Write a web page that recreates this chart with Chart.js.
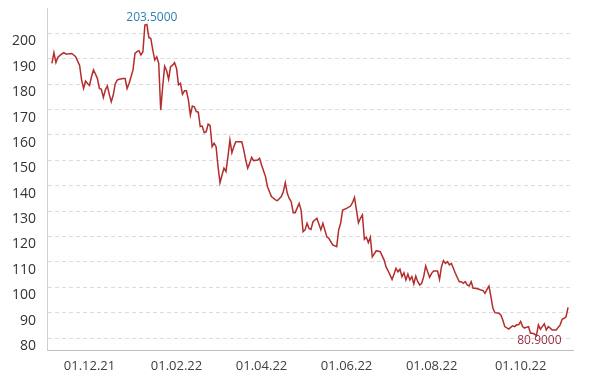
<!DOCTYPE html>
<html>
<head>
<meta charset="utf-8">
<script src="https://cdn.jsdelivr.net/npm/chart.js@4"></script>
<style>
  html, body { margin: 0; padding: 0; background: #ffffff; }
  #c { display: block; }
</style>
</head>
<body>
<canvas id="c" width="604" height="382"></canvas>
<script>
// ---- data ----
const startDate = '2021-11-04';           // first trading day shown
const tradingDay = [
  0,1,2,3,5,6,7,8,10,11,12,13,14,15,16,17,18,19,20,21,22,23,24,25,26,27,28,29,30,31,32,33,34,36,37,38,39,40,41,42,43,44,45,46,47,48,49,50,51,52,53,54,55,56,57,58,59,60,61,62,63,64,65,66,67,68,69,70,71,72,73,74,75,76,77,78,79,80,81,82,83,84,85,86,87,88,89,90,91,92,93,95,96,97,98,99,100,101,102,104,105,106,108,109,111,113,114,116,117,118,119,120,121,122,123,125,126,127,128,129,130,131,132,134,136,137,138,139,140,141,142,144,145,146,147,149,151,152,153,154,155,156,157,158,159,160,161,162,164,166,168,169,170,172,173,174,175,176,177,178,179,180,181,182,183,184,185,186,187,188,189,190,191,192,193,195,196,197,198,199,200,201,202,203,204,206,207,208,209,210,211,212,213,214,216,217,218,219,220,221,222,223,224,226,227,228,229,231,232,233,234,235,236,237,238,239,240,241,242,243,244,245,246,247,249,250,251,252,253,255,257,258,259,260,261
];
const values = [
  188.2,192.4,188.5,190.6,191.9,192.4,191.9,191.9,192.1,191.5,190.8,189.1,187.4,181.6,178.3,181.2,180.3,179.5,182.9,185.6,184.0,182.2,178.3,178.0,174.8,177.7,179.3,176.0,173.1,175.7,180.1,181.6,181.9,182.2,182.2,178.3,180.3,182.9,185.6,192.1,192.8,193.2,191.5,192.8,203.3,203.5,198.4,198.0,193.4,189.5,190.8,188.2,169.8,179.0,187.1,185.3,181.9,186.9,187.5,188.5,186.2,179.7,180.3,176.0,177.4,177.4,173.8,167.8,171.4,171.1,169.2,169.0,163.3,163.5,160.9,161.3,164.3,163.7,155.4,156.7,155.4,147.5,141.2,144.2,146.9,145.6,151.4,158.0,153.0,155.4,157.3,157.3,157.3,154.1,150.1,146.9,148.9,151.2,149.9,150.1,150.8,148.2,143.6,139.6,135.7,134.4,134.1,135.7,137.6,141.2,137.0,135.0,133.7,129.4,129.4,133.0,130.4,121.9,122.6,125.2,123.2,122.8,125.8,127.2,122.6,125.2,122.6,119.9,119.3,118.0,116.7,116.0,122.6,125.2,130.4,131.1,132.0,133.3,135.4,130.4,125.4,127.2,128.5,118.9,119.7,117.6,119.7,112.0,114.4,114.0,110.7,107.9,106.5,103.1,105.2,107.5,106.1,107.1,104.2,105.7,102.9,105.2,102.9,104.2,101.3,104.4,102.2,100.9,101.6,104.2,108.4,106.1,103.9,105.5,106.4,106.4,103.1,108.1,110.5,109.4,110.1,108.8,109.4,107.5,105.5,102.2,102.2,101.6,102.2,100.9,100.5,102.2,99.6,99.6,99.2,98.9,98.7,97.6,99.2,100.5,96.3,91.7,90.0,89.8,89.1,87.1,84.5,83.5,84.2,84.8,84.5,85.2,85.2,86.5,84.5,83.9,84.3,84.5,81.9,81.9,81.6,80.9,85.2,83.5,85.6,83.2,84.5,83.9,83.2,83.2,85.2,87.4,87.8,88.4,92.1
];
const tickDates  = ['2021-12-01','2022-02-01','2022-04-01','2022-06-01','2022-08-01','2022-10-01'];
const tickLabels = ['01.12.21','01.02.22','01.04.22','01.06.22','01.08.22','01.10.22'];
const yTicks = [80,90,100,110,120,130,140,150,160,170,180,190,200];

// count weekdays from startDate up to (not including) date
function weekdayIndex(dateStr) {
  const d0 = new Date(startDate + 'T00:00:00Z');
  const d1 = new Date(dateStr + 'T00:00:00Z');
  let n = 0;
  for (let d = new Date(d0); d < d1; d.setUTCDate(d.getUTCDate() + 1)) {
    const wd = d.getUTCDay();
    if (wd !== 0 && wd !== 6) n++;
  }
  return n;
}
const tickDays = tickDates.map(weekdayIndex);

const points = tradingDay.map((d, i) => ({ x: d, y: values[i] }));

const extremaPlugin = {
  id: 'extrema',
  afterDatasetsDraw(chart) {
    const { ctx, scales: { x, y } } = chart;
    let maxI = 0, minI = 0;
    values.forEach((v, i) => { if (v > values[maxI]) maxI = i; if (v < values[minI]) minI = i; });
    ctx.save();
    ctx.font = '12px "Open Sans", sans-serif';
    ctx.textAlign = 'center';
    // max
    ctx.fillStyle = '#2f7fb5';
    ctx.textBaseline = 'bottom';
    ctx.fillText(values[maxI].toFixed(4), x.getPixelForValue(tradingDay[maxI]) + 5, y.getPixelForValue(values[maxI]) - 1);
    // min
    ctx.fillStyle = '#9a2c45';
    ctx.textBaseline = 'top';
    ctx.fillText(values[minI].toFixed(4), x.getPixelForValue(tradingDay[minI]) + 3, y.getPixelForValue(values[minI]) - 1);
    ctx.restore();
  }
};

new Chart(document.getElementById('c'), {
  type: 'line',
  data: {
    datasets: [{
      data: points,
      borderColor: 'rgb(180,45,45)',
      borderWidth: 1.5,
      pointRadius: 0,
      tension: 0,
      fill: false
    }]
  },
  options: {
    responsive: false,
    animation: false,
    devicePixelRatio: 1,
    layout: { padding: { top: 8, right: 31, bottom: 0, left: 0 } },
    plugins: { legend: { display: false }, tooltip: { enabled: false } },
    scales: {
      x: {
        type: 'linear',
        min: -2.5,
        max: 263.5,
        afterFit: s => { s.height = 32; s.paddingLeft = 0; s.paddingRight = 0; },
        afterBuildTicks: s => { s.ticks = tickDays.map(v => ({ value: v })); },
        grid: { display: false, drawTicks: false },
        border: { display: true, color: '#bdbdbd', width: 1 },
        ticks: {
          autoSkip: false,
          maxRotation: 0,
          padding: 8,
          color: '#404040',
          font: { family: '"Open Sans", sans-serif', size: 13 },
          callback: (v, i) => tickLabels[i]
        }
      },
      y: {
        type: 'linear',
        min: 75.3,
        max: 210,
        afterFit: s => { s.width = 47; s.paddingTop = 0; s.paddingBottom = 0; },
        afterBuildTicks: s => { s.ticks = yTicks.map(v => ({ value: v })); },
        grid: { display: true, drawTicks: false, color: '#dcdcdc', lineWidth: 1 },
        border: { display: true, color: '#cfcfcf', width: 1, dash: [4, 3] },
        ticks: {
          padding: 11,
          labelOffset: 8,
          color: '#333333',
          font: { family: '"Open Sans", sans-serif', size: 14 },
          callback: v => String(v)
        }
      }
    }
  },
  plugins: [extremaPlugin]
});
</script>
</body>
</html>
